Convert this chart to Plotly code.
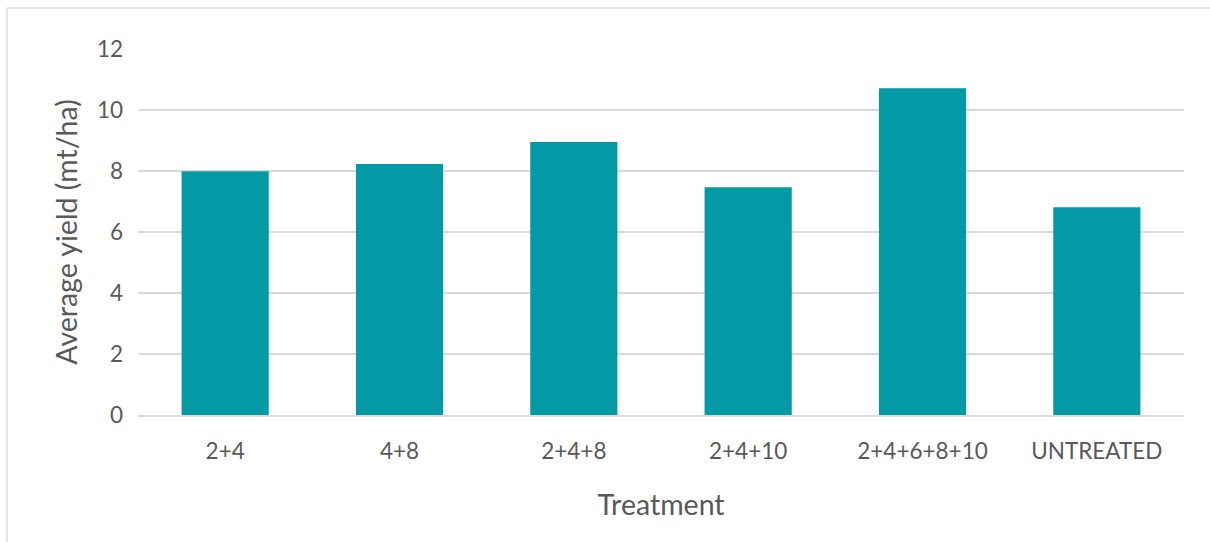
import plotly.graph_objects as go

# Average yield per fungicide treatment timing
treatments = ["2+4", "4+8", "2+4+8", "2+4+10", "2+4+6+8+10", "UNTREATED"]
avg_yield = [7.99, 8.23, 8.95, 7.47, 10.71, 6.81]

BAR_COLOR = "#039AA6"
TEXT_COLOR = "#595959"
GRID_COLOR = "#D9D9D9"
FONT = "Lato"

fig = go.Figure(
    go.Bar(
        x=treatments,
        y=avg_yield,
        marker=dict(color=BAR_COLOR, line=dict(width=0)),
        hoverinfo="x+y",
    )
)

fig.update_layout(
    width=1210,
    height=542,
    margin=dict(l=138, r=26, t=49, b=127),
    paper_bgcolor="white",
    plot_bgcolor="white",
    bargap=0.5,
    showlegend=False,
    font=dict(family=FONT, color=TEXT_COLOR, size=22.5),
    xaxis=dict(
        showgrid=False,
        showline=True,
        linecolor=GRID_COLOR,
        linewidth=1.5,
        ticks="",
        ticklabelstandoff=15,
        tickfont=dict(size=22.5, color=TEXT_COLOR),
        title=dict(text="Treatment", font=dict(size=28.5, color=TEXT_COLOR), standoff=32),
    ),
    yaxis=dict(
        range=[0, 12],
        dtick=2,
        showgrid=True,
        gridcolor=GRID_COLOR,
        gridwidth=1.5,
        zeroline=False,
        showline=False,
        ticks="",
        ticklabelstandoff=14,
        tickfont=dict(size=22.5, color=TEXT_COLOR),
        title=dict(text="Average yield (mt/ha)", font=dict(size=28.5, color=TEXT_COLOR), standoff=10),
    ),
)

# Thin frame along the top and left edges of the chart area
plot_w = 1210 - 138 - 26
plot_h = 542 - 49 - 127
x_left = (7 - 138) / plot_w
y_top = (415 - 8) / plot_h
frame = dict(color="#E6E6E6", width=2)
fig.add_shape(type="line", xref="paper", yref="paper",
              x0=x_left, x1=(1210 - 138) / plot_w, y0=y_top, y1=y_top, line=frame)
fig.add_shape(type="line", xref="paper", yref="paper",
              x0=x_left, x1=x_left, y0=y_top, y1=-(542 - 415) / plot_h, line=frame)

fig.write_html("out.html")
